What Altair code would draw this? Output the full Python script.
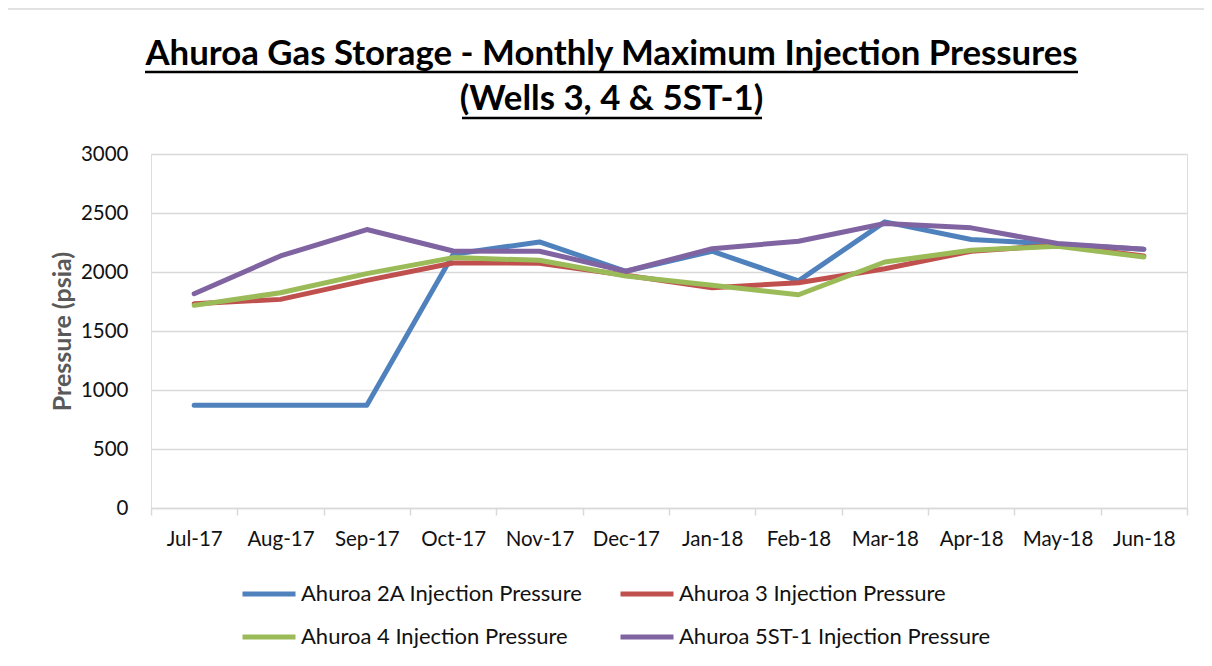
import altair as alt
import pandas as pd

months = ["Jul-17", "Aug-17", "Sep-17", "Oct-17", "Nov-17", "Dec-17",
          "Jan-18", "Feb-18", "Mar-18", "Apr-18", "May-18", "Jun-18"]
series_names = ["Ahuroa 2A Injection Pressure", "Ahuroa 3 Injection Pressure",
                "Ahuroa 4 Injection Pressure", "Ahuroa 5ST-1 Injection Pressure"]
well_2a = [870, 870, 870, 2150, 2255, 2006, 2176, 1925, 2425, 2275, 2235, 2193]
well_3 = [1731, 1768, 1929, 2076, 2075, 1972, 1867, 1909, 2028, 2176, 2227, 2135]
well_4 = [1717, 1824, 1986, 2122, 2099, 1966, 1887, 1807, 2085, 2184, 2218, 2127]
well_5st1 = [1816, 2136, 2360, 2178, 2176, 2006, 2198, 2261, 2411, 2374, 2241, 2193]
colors = ["#4F81BD", "#C0504D", "#9BBB59", "#8064A2"]
title_lines = ["Ahuroa Gas Storage - Monthly Maximum Injection Pressures", "(Wells 3, 4 & 5ST-1)"]

rows = []
for name, vals in zip(series_names, [well_2a, well_3, well_4, well_5st1]):
    for m, v in zip(months, vals):
        rows.append({"Month": m, "Series": name, "Pressure": v})
df = pd.DataFrame(rows)

FONT = "Lato"
W, H = 1036, 354

lines = alt.Chart(df).mark_line(strokeWidth=5, strokeCap="round", strokeJoin="round").encode(
    x=alt.X("Month:N", sort=months, title=None,
            scale=alt.Scale(paddingInner=0, paddingOuter=0),
            axis=alt.Axis(labelAngle=0, labelFont=FONT, labelFontSize=20.5, labelColor="#111",
                          tickBand="extent", ticks=True, tickSize=7, tickColor="#d9d9d9",
                          tickWidth=1.5, domainColor="#d9d9d9", domainWidth=1.5,
                          labelPadding=14, grid=False)),
    y=alt.Y("Pressure:Q", title="Pressure (psia)",
            scale=alt.Scale(domain=[0, 3000], nice=False),
            axis=alt.Axis(values=[0, 500, 1000, 1500, 2000, 2500, 3000], format="d",
                          labelFont=FONT, labelFontSize=20.5, labelColor="#111", ticks=False,
                          domain=False, labelPadding=23, gridColor="#d9d9d9", gridWidth=1.5,
                          titleFont=FONT, titleFontSize=25, titleFontWeight="bold",
                          titleColor="#595959", titleX=-89, titleY=177, titleAngle=270,
                          titleAlign="center", titleBaseline="middle")),
    color=alt.Color("Series:N", sort=series_names,
                    scale=alt.Scale(domain=series_names, range=colors),
                    legend=alt.Legend(title=None, orient="none", legendX=89, legendY=411,
                                      direction="horizontal", columns=2, symbolType="stroke",
                                      symbolSize=2809, symbolStrokeWidth=5, labelFont=FONT,
                                      labelFontSize=22, labelColor="#111", labelOffset=3,
                                      columnPadding=27, rowPadding=3, labelLimit=400)),
    order=alt.value(0),
)

border = alt.Chart(pd.DataFrame({"b": [0]})).mark_rect(
    fillOpacity=0, stroke="#d9d9d9", strokeWidth=1.5
).encode(x=alt.value(-145), x2=alt.value(1100), y=alt.value(-145), y2=alt.value(700))

t1 = alt.Chart(pd.DataFrame({"t": [title_lines[0]]})).mark_text(
    font=FONT, fontSize=34.8, fontWeight="bold", color="#000", align="center", baseline="middle"
).encode(text="t:N", x=alt.value(460.5), y=alt.value(-99))
t2 = alt.Chart(pd.DataFrame({"t": [title_lines[1]]})).mark_text(
    font=FONT, fontSize=34.8, fontWeight="bold", color="#000", align="center", baseline="middle"
).encode(text="t:N", x=alt.value(460.5), y=alt.value(-54))
u1 = alt.Chart(pd.DataFrame({"u": [0]})).mark_rule(color="#000", strokeWidth=2.5).encode(
    x=alt.value(-6), x2=alt.value(927), y=alt.value(-82))
u2 = alt.Chart(pd.DataFrame({"u": [0]})).mark_rule(color="#000", strokeWidth=2.5).encode(
    x=alt.value(311), x2=alt.value(611), y=alt.value(-36))

chart = alt.layer(border, lines, t1, t2, u1, u2).properties(
    width=W, height=H,
    autosize=alt.AutoSizeParams(type="none"),
    padding={"left": 143, "top": 146, "right": 17, "bottom": 150},
).configure_view(stroke=None).configure(background="white")

chart.save("out.html", embed_options={"renderer": "svg", "actions": False})
